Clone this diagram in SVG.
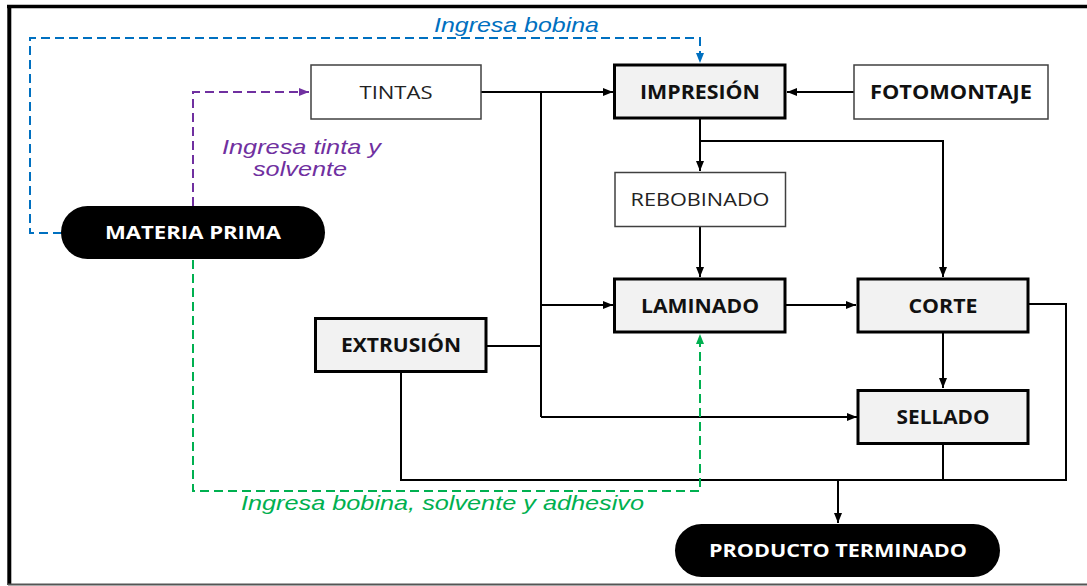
<svg xmlns="http://www.w3.org/2000/svg" width="1087" height="586" viewBox="0 0 1087 586">
<style>
.proc{fill:#F2F2F2;stroke:#000;stroke-width:3}
.plain{fill:#fff;stroke:#404040;stroke-width:1.5}
.term{fill:#000}
.lb{font-family:"Open Sans","Liberation Sans",sans-serif;font-weight:bold;font-size:19px;fill:#111;text-anchor:middle}
.lr{font-family:"Open Sans","Liberation Sans",sans-serif;font-size:19px;fill:#222;text-anchor:middle}
.lw{font-family:"Open Sans","Liberation Sans",sans-serif;font-weight:bold;font-size:18px;fill:#fff;text-anchor:middle}
.it{font-family:"Liberation Sans",Arial,sans-serif;font-style:italic;font-size:21px}
.c{fill:none;stroke:#000;stroke-width:2}
.d{fill:none;stroke-width:2;stroke-dasharray:9,5}
</style>
<defs>
<marker id="ak" markerUnits="userSpaceOnUse" markerWidth="10" markerHeight="8" viewBox="0 0 10 8" refX="10" refY="4" orient="auto"><path d="M0,0 L10,4 L0,8 z" fill="#000"/></marker>
<marker id="ab" markerUnits="userSpaceOnUse" markerWidth="10" markerHeight="8" viewBox="0 0 10 8" refX="10" refY="4" orient="auto"><path d="M0,0 L10,4 L0,8 z" fill="#0070C0"/></marker>
<marker id="ap" markerUnits="userSpaceOnUse" markerWidth="10" markerHeight="8" viewBox="0 0 10 8" refX="10" refY="4" orient="auto"><path d="M0,0 L10,4 L0,8 z" fill="#7030A0"/></marker>
<marker id="ag" markerUnits="userSpaceOnUse" markerWidth="10" markerHeight="8" viewBox="0 0 10 8" refX="10" refY="4" orient="auto"><path d="M0,0 L10,4 L0,8 z" fill="#00B050"/></marker>
</defs>
<rect width="1087" height="586" fill="#fff"/>
<g id="frame">
<line x1="7" y1="6.5" x2="1087" y2="6.5" stroke="#000" stroke-width="3.5"/>
<line x1="9.3" y1="5" x2="9.3" y2="585" stroke="#000" stroke-width="4"/>
<line x1="8" y1="584.5" x2="1087" y2="584.5" stroke="#555" stroke-width="2"/>
</g>
<g id="connectors">
<path class="c" d="M481,92 H613" marker-end="url(#ak)"/>
<path class="c" d="M541,92 V417"/>
<path class="c" d="M541,305 H613" marker-end="url(#ak)"/>
<path class="c" d="M541,417 H857" marker-end="url(#ak)"/>
<path class="c" d="M486,346 H541"/>
<path class="c" d="M854,92 H787" marker-end="url(#ak)"/>
<path class="c" d="M700,118 V171" marker-end="url(#ak)"/>
<path class="c" d="M700,141 H943 V277" marker-end="url(#ak)"/>
<path class="c" d="M700,227 V277" marker-end="url(#ak)"/>
<path class="c" d="M785,305 H856" marker-end="url(#ak)"/>
<path class="c" d="M943,332 V388" marker-end="url(#ak)"/>
<path class="c" d="M1028,304 H1066 V480 H401 V372"/>
<path class="c" d="M943,444 V480"/>
<path class="c" d="M838,480 V523" marker-end="url(#ak)"/>
<path class="d" stroke="#0070C0" d="M62,233 H30 V38 H700 V63" marker-end="url(#ab)"/>
<path class="d" stroke="#7030A0" d="M193,206 V92 H309" marker-end="url(#ap)"/>
<path class="d" stroke="#00B050" d="M193,260 V491 H700 V334" marker-end="url(#ag)"/>
<text class="it" fill="#0070C0" x="434" y="32" textLength="165" lengthAdjust="spacingAndGlyphs">Ingresa bobina</text>
<text class="it" fill="#7030A0" x="222" y="154" textLength="159" lengthAdjust="spacingAndGlyphs">Ingresa tinta y</text>
<text class="it" fill="#7030A0" x="253" y="176" textLength="94" lengthAdjust="spacingAndGlyphs">solvente</text>
<text class="it" fill="#00B050" x="241" y="510" textLength="403" lengthAdjust="spacingAndGlyphs">Ingresa bobina, solvente y adhesivo</text>
</g>
<g id="materia-prima">
<rect class="term" x="61" y="206" width="264" height="53" rx="26.5"/>
<text class="lw" x="193" y="239" textLength="176" lengthAdjust="spacingAndGlyphs">MATERIA PRIMA</text>
</g>
<g id="tintas">
<rect class="plain" x="311" y="65" width="170" height="54"/>
<text class="lr" x="396" y="99" textLength="73" lengthAdjust="spacingAndGlyphs">TINTAS</text>
</g>
<g id="impresion">
<rect class="proc" x="614.5" y="65" width="170.5" height="53"/>
<text class="lb" x="700" y="99" textLength="120" lengthAdjust="spacingAndGlyphs">IMPRESIÓN</text>
</g>
<g id="fotomontaje">
<rect class="plain" x="854" y="65" width="194" height="54"/>
<text class="lb" x="951" y="99" textLength="162" lengthAdjust="spacingAndGlyphs">FOTOMONTAJE</text>
</g>
<g id="rebobinado">
<rect class="plain" x="615" y="172.5" width="170.5" height="54"/>
<text class="lr" x="700" y="206" textLength="139" lengthAdjust="spacingAndGlyphs">REBOBINADO</text>
</g>
<g id="laminado">
<rect class="proc" x="614.5" y="279" width="170.5" height="53"/>
<text class="lb" x="700" y="312.5" textLength="118" lengthAdjust="spacingAndGlyphs">LAMINADO</text>
</g>
<g id="corte">
<rect class="proc" x="858" y="279" width="170" height="53"/>
<text class="lb" x="943" y="312.5" textLength="69" lengthAdjust="spacingAndGlyphs">CORTE</text>
</g>
<g id="extrusion">
<rect class="proc" x="315.5" y="318.5" width="170.5" height="53"/>
<text class="lb" x="401" y="352" textLength="120" lengthAdjust="spacingAndGlyphs">EXTRUSIÓN</text>
</g>
<g id="sellado">
<rect class="proc" x="858" y="390.5" width="170" height="53"/>
<text class="lb" x="943" y="424" textLength="93" lengthAdjust="spacingAndGlyphs">SELLADO</text>
</g>
<g id="producto-terminado">
<rect class="term" x="675" y="524" width="325" height="53" rx="26.5"/>
<text class="lw" x="838" y="557" textLength="258" lengthAdjust="spacingAndGlyphs">PRODUCTO TERMINADO</text>
</g>
</svg>
